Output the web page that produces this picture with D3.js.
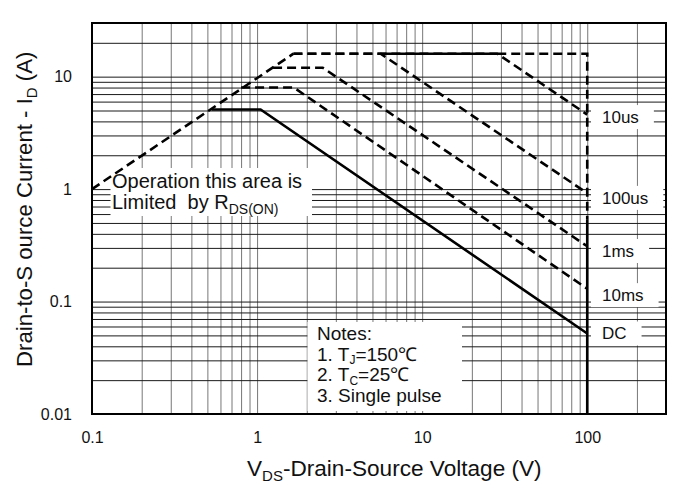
<!DOCTYPE html>
<html>
<head>
<meta charset="utf-8">
<script src="https://cdn.jsdelivr.net/npm/d3@7"></script>
<style>
  html, body { margin: 0; padding: 0; background: #fff; }
  svg text { font-family: "Liberation Sans", Arial, Helvetica, sans-serif; fill: #111; }
</style>
</head>
<body>
<svg id="chart" width="680" height="485"></svg>
<script>
// ---- data ----
const xTickValues = [0.1, 1, 10, 100];
const xTickLabels = ["0.1", "1", "10", "100"];
const yTickValues = [0.01, 0.1, 1, 10];
const yTickLabels = ["0.01", "0.1", "1", "10"];

const rdsV = [0.1, 1.66];          const rdsI = [1, 16];
const v10us = [1.66, 28.5, 100];   const i10us = [16, 16, 4.6];
const v100us = [1.66, 5.6, 100];   const i100us = [16, 16, 0.92];
const v1ms = [1.25, 2.5, 100];     const i1ms = [12, 12, 0.31];
const v10ms = [0.8, 1.67, 100];    const i10ms = [8, 8, 0.13];
const vDC = [0.53, 1.05, 100];     const iDC = [5.1, 5.1, 0.052];
const vTopLimit = [28.5, 100, 100]; const iTopLimit = [16, 16, 0.54];
const vTopSolid = [5.6, 28.5];     const iTopSolid = [16, 16];
const vVertSolid = [100, 100];     const iVertSolid = [0.54, 0.01];

const curveLabels = ["10us", "100us", "1ms", "10ms", "DC"];
const curveEndI = [4.6, 0.92, 0.31, 0.13, 0.052];

const notesLines = ["Notes:", "1. T|J|=150\u2103", "2. T|C|=25\u2103", "3. Single pulse"];

// ---- layout ----
const L = 92, R = 666, T = 23, B = 414;
const svg = d3.select("#chart");
const x = d3.scaleLog().domain([0.1, 300]).range([L, R]);
const y = d3.scaleLog().domain([0.01, 30]).range([B, T]);

// grid
svg.append("g").attr("transform", `translate(0,${B})`)
  .call(d3.axisBottom(x).tickValues(x.ticks()).tickSize(-(B - T)).tickFormat(""))
  .call(g => g.select(".domain").remove())
  .call(g => g.selectAll("line").attr("stroke", "#777").attr("stroke-width", 1));
svg.append("g").attr("transform", `translate(${L},0)`)
  .call(d3.axisLeft(y).tickValues(y.ticks()).tickSize(-(R - L)).tickFormat(""))
  .call(g => g.select(".domain").remove())
  .call(g => g.selectAll("line").attr("stroke", "#1a1a1a").attr("stroke-width", 1));

// white boxes
svg.append("rect").attr("x", 110.5).attr("y", 168).attr("width", 201.5).attr("height", 48).attr("fill", "#fff");
svg.append("rect").attr("x", 307.5).attr("y", 322).attr("width", 154.5).attr("height", 89).attr("fill", "#fff");

// border
svg.append("rect").attr("x", L).attr("y", T).attr("width", R - L).attr("height", B - T)
  .attr("fill", "none").attr("stroke", "#000").attr("stroke-width", 2);

// curve labels with white backgrounds
const labelDy = [8.5, 10.7, 10.7, 12.4, 6];
const lg = svg.append("g");
curveLabels.forEach((lab, k) => {
  const by = y(curveEndI[k]) + labelDy[k];
  const t = lg.append("text").attr("x", 602).attr("y", by).attr("font-size", 17).text(lab);
  const w = t.node().getComputedTextLength();
  lg.insert("rect", "text").attr("x", 591).attr("y", by - 18).attr("width", w + 11 + 15).attr("height", 24).attr("fill", "#fff");
});

// curves
const line = d3.line().x(d => x(d[0])).y(d => y(d[1]));
const zip = (a, b) => a.map((v, i) => [v, b[i]]);
const dashed = [[rdsV, rdsI], [v10us, i10us], [v100us, i100us], [v1ms, i1ms], [v10ms, i10ms], [vTopLimit, iTopLimit]];
dashed.forEach(([a, b]) => {
  svg.append("path").attr("d", line(zip(a, b))).attr("fill", "none")
    .attr("stroke", "#000").attr("stroke-width", 2.6).attr("stroke-dasharray", "9,5");
});
[[vDC, iDC], [vTopSolid, iTopSolid], [vVertSolid, iVertSolid]].forEach(([a, b]) => {
  svg.append("path").attr("d", line(zip(a, b))).attr("fill", "none")
    .attr("stroke", "#000").attr("stroke-width", 2.6);
});

// tick labels
svg.append("g").attr("transform", `translate(0,${B})`)
  .call(d3.axisBottom(x).tickValues(xTickValues).tickSize(0).tickPadding(18)
    .tickFormat((d, i) => xTickLabels[i]))
  .call(g => g.select(".domain").remove())
  .call(g => g.selectAll("text").attr("font-size", 16).attr("font-family", "Liberation Sans, Arial, sans-serif").attr("fill", "#111"));
svg.append("g").attr("transform", `translate(${L},0)`)
  .call(d3.axisLeft(y).tickValues(yTickValues).tickSize(0).tickPadding(20)
    .tickFormat((d, i) => yTickLabels[i]))
  .call(g => g.select(".domain").remove())
  .call(g => g.selectAll("text").attr("font-size", 16).attr("font-family", "Liberation Sans, Arial, sans-serif").attr("fill", "#111"));

// axis titles
const xt = svg.append("text").attr("x", 247).attr("y", 476).attr("font-size", 22.6);
xt.append("tspan").text("V");
xt.append("tspan").attr("font-size", 15).attr("dy", 5).text("DS");
xt.append("tspan").attr("dy", -5).text("-Drain-Source Voltage (V)");

const yt = svg.append("text").attr("transform", "translate(32,367) rotate(-90)").attr("font-size", 22.2);
yt.append("tspan").text("Drain-to-S ource Current - I").style("white-space", "pre");
yt.append("tspan").attr("font-size", 15).attr("dy", 5).text("D");
yt.append("tspan").attr("dy", -5).style("white-space", "pre").text(" (A)");

// Operation annotation
const op1 = svg.append("text").attr("x", 112).attr("y", 188).attr("font-size", 20).text("Operation this area is");
const op2 = svg.append("text").attr("x", 112).attr("y", 208.5).attr("font-size", 20).style("white-space", "pre");
op2.append("tspan").text("Limited  by R");
op2.append("tspan").attr("font-size", 14).attr("dy", 5).text("DS(ON)");

// Notes
const noteY = [340, 360.5, 381, 401.5];
notesLines.forEach((s, k) => {
  const t = svg.append("text").attr("x", 317).attr("y", noteY[k]).attr("font-size", 19);
  const parts = s.split("|");
  if (parts.length === 1) { t.text(s); }
  else {
    t.append("tspan").text(parts[0]);
    t.append("tspan").attr("font-size", 12).attr("dy", 3.5).text(parts[1]);
    t.append("tspan").attr("dy", -3.5).text(parts[2]);
  }
});
</script>
</body>
</html>
